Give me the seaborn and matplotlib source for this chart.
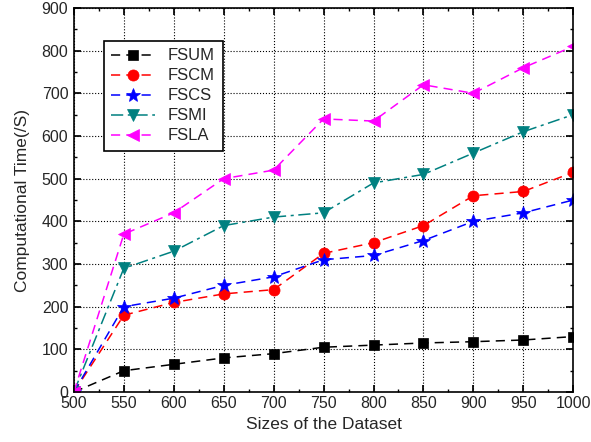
import numpy as np
import pandas as pd
import matplotlib.pyplot as plt
import seaborn as sns
from matplotlib.ticker import MultipleLocator

sns.set_theme(style="ticks")
plt.rcParams["font.family"] = ["Liberation Sans", "DejaVu Sans"]

sizes = [500, 550, 600, 650, 700, 750, 800, 850, 900, 950, 1000]
fsum = [0, 50, 65, 80, 90, 105, 110, 115, 118, 122, 130]
fscm = [0, 180, 210, 230, 240, 325, 350, 390, 460, 470, 515]
fscs = [0, 200, 220, 250, 270, 310, 320, 355, 400, 420, 450]
fsmi = [0, 290, 330, 390, 410, 420, 490, 510, 560, 610, 650]
fsla = [0, 370, 420, 500, 520, 640, 635, 720, 700, 760, 810]

series = {"FSUM": fsum, "FSCM": fscm, "FSCS": fscs, "FSMI": fsmi, "FSLA": fsla}
styles = {
    "FSUM": dict(color="black", marker="s", ls=(0, (6, 4)), ms=7),
    "FSCM": dict(color="red", marker="o", ls=(0, (6, 4)), ms=8),
    "FSCS": dict(color="blue", marker="*", ls=(0, (6, 4)), ms=10),
    "FSMI": dict(color="#008080", marker="v", ls=(0, (8, 3, 2, 3)), ms=9),
    "FSLA": dict(color="magenta", marker="<", ls=(0, (6, 4)), ms=9),
}

df = pd.DataFrame({"size": sizes, **series}).melt("size", var_name="method", value_name="time")

fig, ax = plt.subplots(figsize=(5.91, 4.42), dpi=100)
fig.subplots_adjust(left=0.125, right=0.970, bottom=0.113, top=0.982)

for name in series:
    st = styles[name]
    sns.lineplot(data=df[df["method"] == name], x="size", y="time", ax=ax,
                 color=st["color"], marker=st["marker"], markersize=st["ms"],
                 linestyle=st["ls"], linewidth=1.1, markeredgewidth=0.5,
                 markeredgecolor=st["color"], label=name)

ax.set_xlim(500, 1000)
ax.set_ylim(0, 900)
ax.xaxis.set_major_locator(MultipleLocator(50))
ax.xaxis.set_minor_locator(MultipleLocator(25))
ax.yaxis.set_major_locator(MultipleLocator(100))
ax.yaxis.set_minor_locator(MultipleLocator(50))
ax.tick_params(which="both", direction="in", top=True, right=True, labelsize=11.5, color="black")
ax.tick_params(which="major", length=5)
ax.tick_params(which="minor", length=2.5)
ax.tick_params(axis="x", pad=3)
ax.tick_params(axis="y", pad=4)
ax.grid(True, which="major", ls=":", color="black", lw=0.8)
for s in ax.spines.values():
    s.set_color("black")
    s.set_linewidth(1.2)

ax.set_xlabel("Sizes of the Dataset", fontsize=12.5, labelpad=4)
ax.set_ylabel("Computational Time(/S)", fontsize=12.5, labelpad=8)

leg = ax.legend(loc="upper left", bbox_to_anchor=(0.06, 0.914), borderaxespad=0,
                fontsize=12, frameon=True, fancybox=False, edgecolor="black",
                framealpha=1, handlelength=2.6, labelspacing=0.3, borderpad=0.45)
leg.get_frame().set_linewidth(1.2)

plt.savefig("out.png", dpi=100)
